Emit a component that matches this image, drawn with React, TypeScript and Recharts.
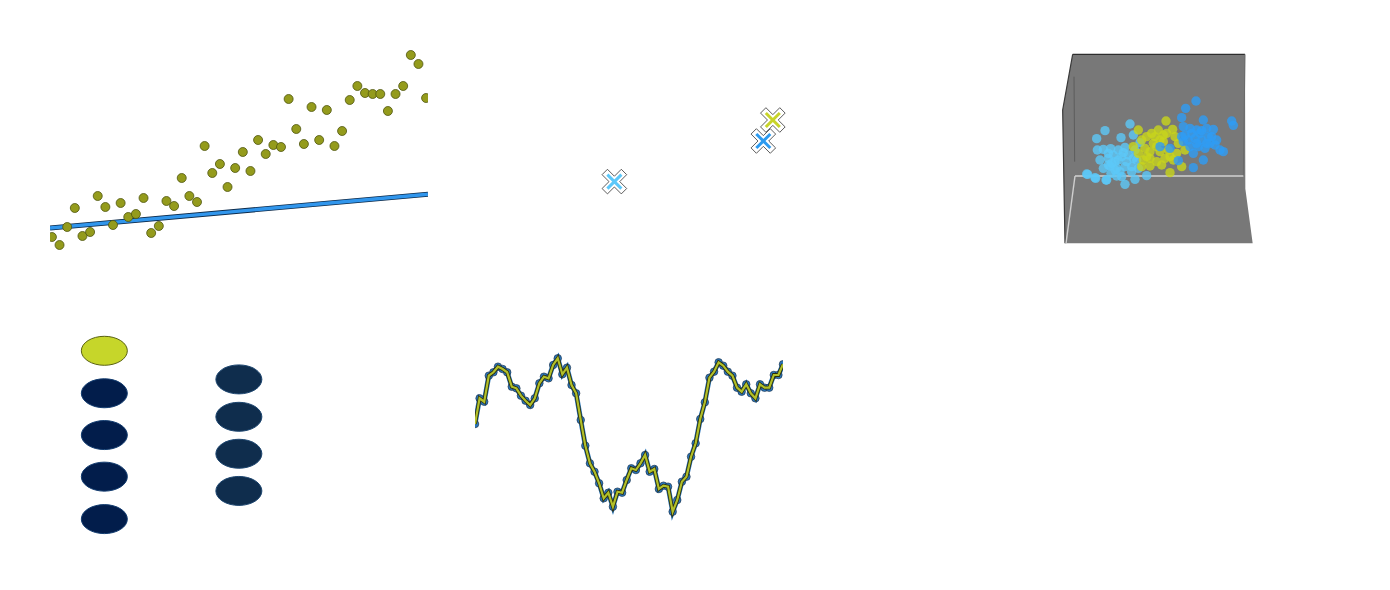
import React from "react";
import {
  Area,
  ComposedChart,
  Line,
  LineChart,
  Scatter,
  ScatterChart,
  XAxis,
  YAxis,
} from "recharts";

// top-left: 50 samples + straight fit line
const sampleValues = [
  13, 5, 23, 42, 14, 18, 54, 43, 25, 47, 33, 36, 52, 17, 24, 49, 44, 72, 54, 48,
  104, 77, 86, 63, 82, 98, 79, 110, 96, 105, 103, 151, 121, 106, 143, 110, 140,
  104, 119, 150, 164, 157, 156, 156, 139, 156, 164, 195, 186, 152,
];
const fitX = [-0.25, 49.25];
const fitY = [22, 55.7];

// top-middle: three centroid markers
const centroidNames = ["a", "b", "c"];
const centroidX = [3.01, 6.93, 7.18];
const centroidY = [3.42, 5.45, 6.5];
const centroidColors = ["#5cc8fa", "#2d9bf0", "#c8d42a"];

// top-right: projected 3d clusters
const lightX = [110, 135, 168, 140, 165, 142, 160, 182, 213, 240, 250, 225, 205, 190, 175, 195, 215, 235, 250, 180, 200, 225, 245, 265, 290, 200, 225, 255, 183, 215, 255, 270, 175, 230, 210, 160, 245, 260, 205, 175, 195, 113, 137, 170, 150, 185, 220];
const lightY = [258, 247, 240, 364, 388, 330, 332, 334, 367, 408, 375, 338, 330, 315, 305, 295, 310, 315, 305, 282, 275, 280, 265, 275, 253, 252, 227, 242, 260, 250, 330, 352, 320, 295, 265, 275, 280, 300, 300, 285, 270, 257, 245, 240, 300, 290, 322];
const yellowX = [265, 348, 368, 250, 275, 290, 305, 325, 340, 285, 300, 320, 340, 355, 375, 385, 300, 320, 345, 370, 395, 275, 300, 360, 405, 330, 350, 310, 265, 330, 290, 315, 360, 280, 335, 380];
const yellowY = [390, 417, 392, 340, 360, 370, 380, 390, 375, 335, 325, 340, 355, 330, 370, 350, 305, 295, 305, 300, 280, 280, 282, 262, 330, 360, 380, 350, 320, 325, 310, 370, 310, 300, 285, 320];
const blueX = [438, 407, 395, 460, 545, 550, 400, 420, 440, 470, 490, 395, 415, 435, 455, 475, 500, 420, 445, 465, 510, 520, 430, 460, 430, 385, 330, 360, 400, 480, 405, 450, 485, 440, 470, 425, 455, 495];
const blueY = [477, 455, 427, 420, 417, 404, 400, 395, 390, 395, 392, 370, 360, 365, 360, 370, 360, 340, 340, 335, 330, 325, 320, 300, 277, 298, 340, 335, 355, 350, 375, 380, 370, 350, 350, 380, 388, 345];

// box panes (same projected units)
const paneX = [38, 45, 68, 585, 586, 608];
const paneLow = [450, 50, 50, 50, 50, 50];
const paneHigh = [450, 489, 617, 617, 214, 50];

// bottom-left: two columns of tokens
const tokenLeftY = [8.6, 6.67, 4.77, 2.88, 0.95];
const tokenRightY = [7.3, 5.6, 3.92, 2.23];

// bottom-middle: walk series
const walkValues = [
  106, 131.7, 128.3, 154.3, 157.7, 163.3, 161, 157.7, 143.3, 141.7, 134.3, 129.3,
  125, 131.7, 146.7, 153.3, 151.7, 165, 171.7, 155.7, 162.3, 145, 136.7, 110,
  84.3, 66.7, 58.3, 46.7, 31.7, 37.3, 23.3, 38.3, 37.3, 50, 61.7, 60, 66.7, 75,
  58.3, 61, 41, 44.3, 43.3, 18.3, 30, 48.3, 53.3, 73.3, 86.7, 111, 127.7, 152.3,
  158.3, 167.7, 164.3, 158.3, 154.3, 142.3, 138.3, 145.7, 136.7, 131.7, 145.7,
  142.3, 142.3, 155, 155, 165.7,
];

const zip = (xs: number[], ys: number[]) => xs.map((x, i) => ({ x, y: ys[i] }));

const sampleData = sampleValues.map((y, i) => ({ x: i, y }));
const fitData = zip(fitX, fitY);
const walkData = walkValues.map((y, i) => ({ x: i, y }));
const paneData = paneX.map((x, i) => ({ x, r: [paneLow[i], paneHigh[i]] }));

const panel = (left: number, top: number): React.CSSProperties => ({
  position: "absolute",
  left,
  top,
});

const circle = (r: number, fill: string, stroke: string, opacity = 1) =>
  (p: any) => (
    <circle cx={p.cx} cy={p.cy} r={r} fill={fill} stroke={stroke} strokeWidth={0.8} fillOpacity={opacity} />
  );

const CrossMarker = (p: any) => {
  const h = 3.8;
  const L = 13.6;
  const plus = [
    [h, -L], [h, -h], [L, -h], [L, h], [h, h], [h, L],
    [-h, L], [-h, h], [-L, h], [-L, -h], [-h, -h], [-h, -L],
  ];
  const pts = plus
    .map(([x, y]) => `${p.cx + (x - y) / Math.SQRT2},${p.cy + (x + y) / Math.SQRT2}`)
    .join(" ");
  const a = 7;
  const color = centroidColors[p.index] ?? p.fill;
  return (
    <g>
      <polygon points={pts} fill="#fff" stroke="#333" strokeWidth={0.8} />
      <line x1={p.cx - a} y1={p.cy - a} x2={p.cx + a} y2={p.cy + a} stroke={color} strokeWidth={3} />
      <line x1={p.cx - a} y1={p.cy + a} x2={p.cx + a} y2={p.cy - a} stroke={color} strokeWidth={3} />
    </g>
  );
};

const tokenShape = (fill: string, stroke: string) => (p: any) => (
  <ellipse cx={p.cx} cy={p.cy} rx={23} ry={14.5} fill={fill} stroke={stroke} strokeWidth={1} />
);

const walkMargin = { top: 55, right: 143, bottom: 60, left: 12 };

export default function App() {
  return (
    <div style={{ position: "absolute", left: 0, top: 0, width: 1390, height: 590, background: "#fff" }}>
      {/* top-left */}
      <div style={panel(0, 0)}>
        <ComposedChart width={463} height={295} margin={{ top: 50, right: 35, bottom: 45, left: 50 }}>
          <XAxis type="number" dataKey="x" domain={[-0.25, 49.25]} hide allowDataOverflow />
          <YAxis type="number" dataKey="y" domain={[0, 200]} hide allowDataOverflow />
          <Scatter data={sampleData} shape={circle(4.5, "#949b1c", "#4f5510")} isAnimationActive={false} />
          <Line data={fitData} dataKey="y" stroke="#0c2a4a" strokeWidth={5} dot={false} isAnimationActive={false} />
          <Line data={fitData} dataKey="y" stroke="#3196ec" strokeWidth={3.4} dot={false} isAnimationActive={false} />
        </ComposedChart>
      </div>

      {/* top-middle */}
      <div style={panel(463, 0)}>
        <ScatterChart width={463} height={295} margin={{ top: 50, right: 46, bottom: 45, left: 37 }}>
          <XAxis type="number" dataKey="x" domain={[0, 10]} hide allowDataOverflow />
          <YAxis type="number" dataKey="y" domain={[0, 10]} hide allowDataOverflow />
          <Scatter
            data={centroidNames.map((name, i) => ({ name, x: centroidX[i], y: centroidY[i] }))}
            shape={CrossMarker}
            isAnimationActive={false}
          />
        </ScatterChart>
      </div>

      {/* top-right */}
      <div style={panel(926, 0)}>
        <ComposedChart width={464} height={295} margin={{ top: 40, right: 120, bottom: 35, left: 124 }}>
          <XAxis type="number" dataKey="x" domain={[0, 660]} hide allowDataOverflow />
          <YAxis type="number" dataKey="y" domain={[0, 660]} hide allowDataOverflow />
          <Area data={paneData} dataKey="r" type="linear" fill="#787878" fillOpacity={1} stroke="none" isAnimationActive={false} />
          <Line data={zip([72, 74], [550, 295])} dataKey="y" stroke="#5c5c5c" strokeWidth={1} dot={false} isAnimationActive={false} />
          <Line data={zip([68, 585], [617, 617])} dataKey="y" stroke="#2e2e2e" strokeWidth={1.2} dot={false} isAnimationActive={false} />
          <Line data={zip([68, 38, 45], [617, 450, 50])} dataKey="y" stroke="#3a3a3a" strokeWidth={1.2} dot={false} isAnimationActive={false} />
          <Line data={zip([585, 580], [617, 252])} dataKey="y" stroke="#6a6a6a" strokeWidth={1} dot={false} isAnimationActive={false} />
          <Line data={zip([75, 580], [252, 252])} dataKey="y" stroke="#d2d2d2" strokeWidth={1.4} dot={false} isAnimationActive={false} />
          <Line data={zip([75, 48], [252, 50])} dataKey="y" stroke="#cfcfcf" strokeWidth={1.4} dot={false} isAnimationActive={false} />
          <Scatter data={zip(lightX, lightY)} shape={circle(4.7, "#5cc8f8", "none", 0.8)} isAnimationActive={false} />
          <Scatter data={zip(yellowX, yellowY)} shape={circle(4.7, "#c8d41c", "none", 0.8)} isAnimationActive={false} />
          <Scatter data={zip(blueX, blueY)} shape={circle(4.7, "#2e9cf5", "none", 0.8)} isAnimationActive={false} />
        </ComposedChart>
      </div>

      {/* bottom-left */}
      <div style={panel(0, 295)}>
        <ScatterChart width={463} height={295} margin={{ top: 25, right: 33, bottom: 50, left: 50 }}>
          <XAxis type="number" dataKey="x" domain={[0, 10]} hide allowDataOverflow />
          <YAxis type="number" dataKey="y" domain={[0, 10]} hide allowDataOverflow />
          <Scatter data={zip([1.43], tokenLeftY.slice(0, 1))} shape={tokenShape("#c6d62a", "#5a6212")} isAnimationActive={false} />
          <Scatter data={tokenLeftY.slice(1).map((y) => ({ x: 1.43, y }))} shape={tokenShape("#021d4b", "#123c70")} isAnimationActive={false} />
          <Scatter data={tokenRightY.map((y) => ({ x: 4.97, y }))} shape={tokenShape("#0f2d4d", "#1d4670")} isAnimationActive={false} />
        </ScatterChart>
      </div>

      {/* bottom-middle: markers underneath, line stacked on top */}
      <div style={panel(463, 295)}>
        <LineChart width={463} height={295} data={walkData} margin={walkMargin}>
          <XAxis type="number" dataKey="x" domain={[0, 67]} hide allowDataOverflow />
          <YAxis type="number" domain={[0, 180]} hide allowDataOverflow />
          <Line dataKey="y" stroke="#2a76bc" strokeWidth={5} dot={{ r: 3.8, fill: "#2a76bc", stroke: "#16263a", strokeWidth: 0.6 }} isAnimationActive={false} />
        </LineChart>
      </div>
      <div style={panel(463, 295)}>
        <LineChart width={463} height={295} data={walkData} margin={walkMargin}>
          <XAxis type="number" dataKey="x" domain={[0, 67]} hide allowDataOverflow />
          <YAxis type="number" domain={[0, 180]} hide allowDataOverflow />
          <Line dataKey="y" stroke="#2d2d08" strokeWidth={3.8} dot={false} isAnimationActive={false} />
          <Line dataKey="y" stroke="#b1c02a" strokeWidth={2.2} dot={false} isAnimationActive={false} />
        </LineChart>
      </div>
    </div>
  );
}
